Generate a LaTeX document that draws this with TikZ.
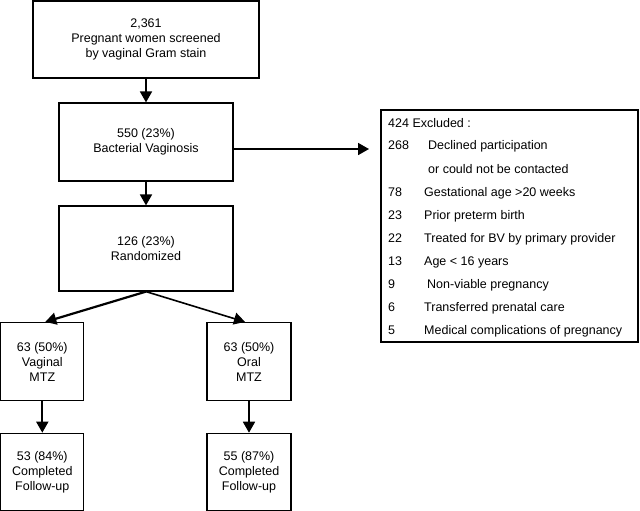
\documentclass[tikz,border=0pt]{standalone}
\usepackage{fontspec}
\setmainfont{Liberation Sans}
\usetikzlibrary{arrows.meta}
\begin{document}
\begin{tikzpicture}[x=1pt,y=-1pt,
  box/.style={draw,line width=1.2pt,align=center,inner sep=0pt,font=\fontsize{12.5}{15}\selectfont},
  arr/.style={line width=1.8pt,-{Triangle[length=11pt,width=12pt]}},
  exl/.style={anchor=base west,inner sep=0pt,font=\fontsize{12.5}{15}\selectfont}]
\useasboundingbox (0,0) rectangle (640,511);
\node[box,minimum width=226pt,minimum height=77pt] (top) at (146,39.5) {2,361\\Pregnant women screened\\by vaginal Gram stain};
\node[box,minimum width=174pt,minimum height=78pt] (bv) at (146,142) {550 (23\%)\\Bacterial Vaginosis};
\node[box,minimum width=174pt,minimum height=85pt] (rand) at (146,248.5) {126 (23\%)\\Randomized};
\node[box,minimum width=83pt,minimum height=78pt] (vag) at (42.3,361.5) {63 (50\%)\\Vaginal\\MTZ};
\node[box,minimum width=84pt,minimum height=78pt] (oral) at (249,361.5) {63 (50\%)\\Oral\\MTZ};
\node[box,minimum width=83pt,minimum height=77pt] (vfu) at (42.3,471.8) {53 (84\%)\\Completed\\Follow-up};
\node[box,minimum width=84pt,minimum height=77pt] (ofu) at (249,471.8) {55 (87\%)\\Completed\\Follow-up};
\node[box,minimum width=257pt,minimum height=232pt] (excl) at (509.5,226) {};
\coordinate (bvout) at (233,149);
\coordinate (exarr) at (369,149);
\draw[arr] (top) -- (bv);
\draw[arr] (bv) -- (rand);
\draw[arr] (bvout) -- (exarr);
\draw[arr,line width=2.2pt] (rand.south) -- ([xshift=3pt]vag.north);
\draw[arr,line width=1.6pt] (rand.south) -- ([xshift=-4pt]oral.north);
\draw[arr] (vag) -- (vfu);
\draw[arr] (oral) -- (ofu);
\node[exl] (h) at (388,127) {424 Excluded :};
\node[exl] (n1) at (388,149) {268};
\node[exl] (t1) at (428,149) {Declined participation};
\node[exl] (t1b) at (428,173) {or could not be contacted};
\node[exl] (n2) at (388,196) {78};
\node[exl] (t2) at (424,196) {Gestational age >20 weeks};
\node[exl] (n3) at (388,219) {23};
\node[exl] (t3) at (424,219) {Prior preterm birth};
\node[exl] (n4) at (388,242) {22};
\node[exl] (t4) at (424,242) {Treated for BV by primary provider};
\node[exl] (n5) at (388,265) {13};
\node[exl] (t5) at (424,265) {Age < 16 years};
\node[exl] (n6) at (388,288) {9};
\node[exl] (t6) at (427,288) {Non-viable pregnancy};
\node[exl] (n7) at (388,311) {6};
\node[exl] (t7) at (424,311) {Transferred prenatal care};
\node[exl] (n8) at (388,334) {5};
\node[exl] (t8) at (424,334) {Medical complications of pregnancy};
\end{tikzpicture}
\end{document}
